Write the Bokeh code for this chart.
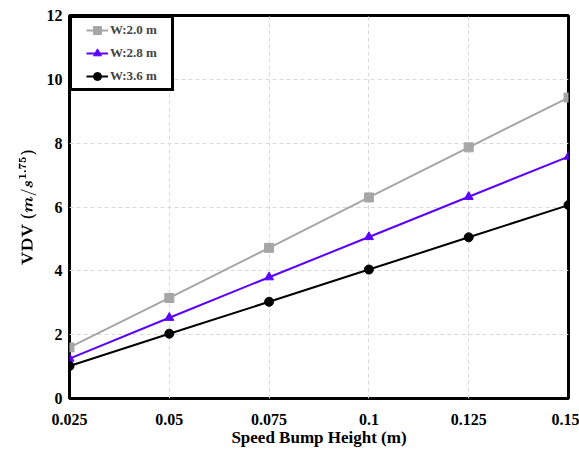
from bokeh.plotting import figure
from bokeh.models import FixedTicker, Range1d, Legend, LegendItem
from bokeh.embed import file_html
from bokeh.resources import INLINE

heights = [0.025, 0.05, 0.075, 0.1, 0.125, 0.15]
x_tick_labels = ["0.025", "0.05", "0.075", "0.1", "0.125", "0.15"]
y_ticks = [0, 2, 4, 6, 8, 10, 12]
vdv_w20 = [1.60, 3.15, 4.72, 6.30, 7.87, 9.43]
vdv_w28 = [1.25, 2.53, 3.80, 5.06, 6.32, 7.58]
vdv_w36 = [1.02, 2.03, 3.03, 4.04, 5.05, 6.06]
series_names = ["W:2.0 m", "W:2.8 m", "W:3.6 m"]

FONT = "Liberation Serif"

p = figure(width=579, height=450, output_backend="svg", toolbar_location=None,
           x_range=Range1d(0.025, 0.15), y_range=Range1d(0, 12),
           min_border_left=69, min_border_right=11, min_border_top=15, min_border_bottom=52)

p.outline_line_color = "black"
p.outline_line_alpha = 1.0
p.outline_line_width = 3
p.background_fill_color = "white"
p.border_fill_color = "white"

for ax in (p.xaxis, p.yaxis):
    ax.axis_line_color = None
    ax.major_tick_line_color = None
    ax.minor_tick_line_color = None
    ax.major_tick_out = 0
    ax.major_tick_in = 0
    ax.minor_tick_out = 0
    ax.minor_tick_in = 0
    ax.major_label_text_font = FONT
    ax.major_label_text_font_style = "bold"
    ax.major_label_text_font_size = "16px"
    ax.major_label_text_color = "black"
    ax.axis_label_text_font = FONT
    ax.axis_label_text_font_style = "bold"
    ax.axis_label_text_font_size = "17px"
    ax.axis_label_text_color = "black"

p.xaxis.ticker = FixedTicker(ticks=heights)
p.xaxis.major_label_overrides = {h: s for h, s in zip(heights, x_tick_labels)}
p.xaxis.major_label_standoff = 15
p.yaxis.ticker = FixedTicker(ticks=y_ticks)
p.yaxis.major_label_standoff = 7
p.xaxis.axis_label = "Speed Bump Height (m)"
p.yaxis.axis_label = r"$$\mathbf{VDV}\ (m/s^{1.75})$$"
p.yaxis.axis_label_text_font_size = "14px"
p.xaxis.axis_label_standoff = 0
p.yaxis.axis_label_standoff = 7

for g in (p.xgrid, p.ygrid):
    g.grid_line_color = "#d9d9d9"
    g.grid_line_dash = "4 3"
    g.grid_line_width = 1

colors = ["#a6a6a6", "#5a00ff", "#000000"]
l1 = p.line(heights, vdv_w20, line_color=colors[0], line_width=2)
m1 = p.scatter(heights, vdv_w20, marker="square", size=9, color=colors[0])
l2 = p.line(heights, vdv_w28, line_color=colors[1], line_width=2)
m2 = p.scatter(heights, vdv_w28, marker="triangle", size=9, color=colors[1])
l3 = p.line(heights, vdv_w36, line_color=colors[2], line_width=2)
m3 = p.scatter(heights, vdv_w36, marker="circle", size=9, color=colors[2])

legend = Legend(items=[
    LegendItem(label=series_names[0], renderers=[l1, m1]),
    LegendItem(label=series_names[1], renderers=[l2, m2]),
    LegendItem(label=series_names[2], renderers=[l3, m3]),
], location="top_left")
legend.border_line_color = "black"
legend.border_line_alpha = 1.0
legend.border_line_width = 3
legend.margin = 0
try:
    legend.padding = (14, 2)
except Exception:
    legend.padding = 3
legend.spacing = 3
legend.glyph_height = 20
legend.label_text_font = FONT
legend.label_text_font_style = "bold"
legend.label_text_font_size = "13px"
legend.glyph_width = 22
legend.label_standoff = 2
legend.background_fill_alpha = 1
p.add_layout(legend)

open("out.html", "w").write(file_html(p, INLINE))
